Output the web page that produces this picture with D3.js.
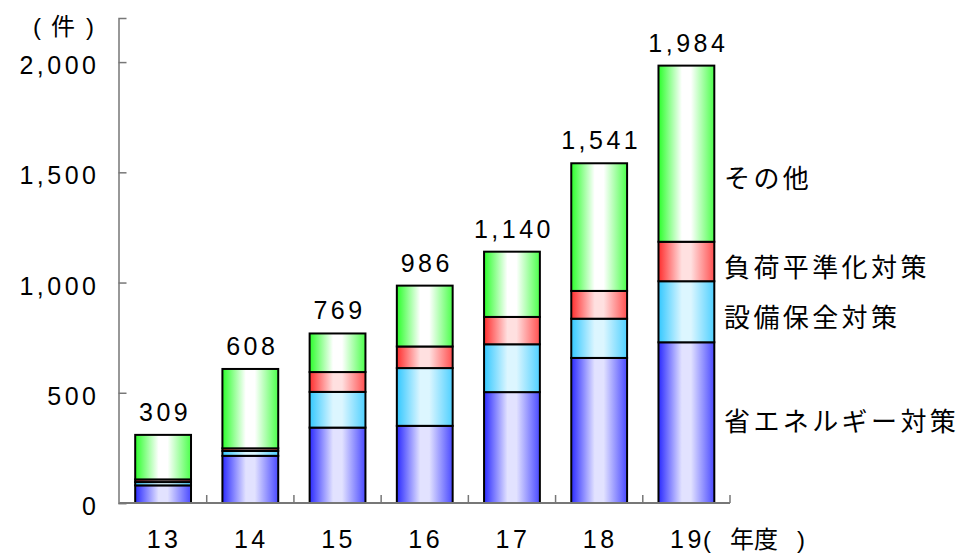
<!DOCTYPE html>
<html>
<head>
<meta charset="utf-8">
<script src="https://cdn.jsdelivr.net/npm/d3@7"></script>
<style>
body { margin:0; background:#fff; }
text { font-family:"Liberation Sans", Arial, "Noto Sans CJK JP", sans-serif; fill:#000; }
.num { font-size:25px; letter-spacing:3.5px; }
.legend { font-size:26px; letter-spacing:3.4px; font-family:"Noto Sans CJK JP", sans-serif; }
.unit { font-size:24px; font-family:"Liberation Sans", Arial, sans-serif; }
.unit.cjk { font-family:"Noto Sans CJK JP", sans-serif; }
</style>
</head>
<body>
<svg id="chart"></svg>
<script>
// fiscal years (Heisei)
var years = ["13","14","15","16","17","18","19"];
// 省エネルギー対策
var shoene = [80, 214, 342, 350, 503, 658, 729];
// 設備保全対策
var setsubi = [15, 22, 162, 262, 217, 178, 277];
// 負荷平準化対策
var fuka = [12, 12, 90, 98, 124, 126, 179];
// その他
var sonota = [202, 360, 175, 276, 296, 579, 799];
var totals = [309, 608, 769, 986, 1140, 1541, 1984];
var yTicks = [0, 500, 1000, 1500, 2000];

var keys = ["shoene","setsubi","fuka","sonota"];
var legendNames = {shoene:"省エネルギー対策", setsubi:"設備保全対策", fuka:"負荷平準化対策", sonota:"その他"};
var legendY = {shoene:419, setsubi:315, fuka:265, sonota:176};
var colors = {
    shoene: ["#2b2bff","#e2e2ff","#4a4aff"],
    setsubi:["#33c8ff","#dcf6ff","#4fd0ff"],
    fuka:   ["#ff2e2e","#ffe0e0","#ff5050"],
    sonota: ["#2bff2b","#ffffff","#4cff4c"]
};

var screen = {width:963, height:554};
var svg = d3.select("#chart")
    .attr("width", screen.width)
    .attr("height", screen.height);

var rows = years.map(function(y, i){
    return {year:y, shoene:shoene[i], setsubi:setsubi[i], fuka:fuka[i], sonota:sonota[i], total:totals[i]};
});

var xScale = d3.scaleBand()
    .domain(years)
    .range([119.5, 730])
    .paddingInner(0.36)
    .paddingOuter(0.18);
var yScale = d3.scaleLinear()
    .domain([0, 2200])
    .range([503, 18]);

//gradients
var defs = svg.append("defs");
keys.forEach(function(k){
    var g = defs.append("linearGradient")
        .attr("id", "grad-" + k)
        .attr("x1", "0%").attr("x2", "100%")
        .attr("y1", "0%").attr("y2", "0%");
    g.append("stop").attr("offset", "0%").attr("stop-color", colors[k][0]);
    g.append("stop").attr("offset", "42%").attr("stop-color", colors[k][1]);
    g.append("stop").attr("offset", "58%").attr("stop-color", colors[k][1]);
    g.append("stop").attr("offset", "100%").attr("stop-color", colors[k][2]);
});

var stacked = d3.stack().keys(keys)(rows);

//bars
var layers = svg.append("g")
    .selectAll("g")
    .data(stacked)
    .enter()
    .append("g")
    .attr("fill", function(d){ return "url(#grad-" + d.key + ")"; });

layers.selectAll("rect")
    .data(function(d){ return d; })
    .enter()
    .append("rect")
    .attr("x", function(d){ return xScale(d.data.year); })
    .attr("width", xScale.bandwidth())
    .attr("y", function(d){ return yScale(d[1]); })
    .attr("height", function(d){ return yScale(d[0]) - yScale(d[1]); })
    .attr("stroke", "#000")
    .attr("stroke-width", 2);

//axes
var yAxis = d3.axisLeft(yScale)
    .tickValues(yTicks)
    .tickSize(-8)
    .tickPadding(19)
    .tickFormat(d3.format(","));

var ya = svg.append("g")
    .attr("transform", "translate(118.5,0)")
    .call(yAxis);
ya.select(".domain").attr("stroke", "#777").attr("stroke-width", 1.5);
ya.selectAll(".tick line").attr("stroke", "#777").attr("stroke-width", 1.5);
ya.selectAll(".tick text")
    .classed("num", true)
    .attr("font-size", null)
    .attr("font-family", null)
    .attr("dy", "0.46em");

var axisLine = svg.append("g");
axisLine.append("line")
    .attr("x1", xScale.range()[0]).attr("x2", xScale.range()[1])
    .attr("y1", yScale(0)).attr("y2", yScale(0))
    .attr("stroke", "#777").attr("stroke-width", 2);
var step = xScale.step();
axisLine.selectAll("line.xt")
    .data(d3.range(1, years.length + 1))
    .enter()
    .append("line")
    .attr("class", "xt")
    .attr("x1", function(i){ return xScale.range()[0] + i * step; })
    .attr("x2", function(i){ return xScale.range()[0] + i * step; })
    .attr("y1", yScale(0))
    .attr("y2", yScale(0) - 8)
    .attr("stroke", "#777").attr("stroke-width", 1.5);

//x labels
svg.append("g")
    .selectAll("text")
    .data(years)
    .enter()
    .append("text")
    .classed("num", true)
    .attr("text-anchor", "middle")
    .attr("x", function(d){ return xScale(d) + xScale.bandwidth()/2 + 1; })
    .attr("y", 548)
    .text(function(d){ return d; });

//unit labels: ( 年度 ) and ( 件 )
var unitX = [{t:"(", x:703}, {t:"年度", x:730, cjk:true}, {t:")", x:797}];
var unitY = [{t:"(", x:33}, {t:"件", x:51, cjk:true}, {t:")", x:86}];
svg.append("g")
    .selectAll("text")
    .data(unitX)
    .enter()
    .append("text")
    .attr("class", function(d){ return d.cjk ? "unit cjk" : "unit"; })
    .attr("x", function(d){ return d.x; })
    .attr("y", 548)
    .text(function(d){ return d.t; });
svg.append("g")
    .selectAll("text")
    .data(unitY)
    .enter()
    .append("text")
    .attr("class", function(d){ return d.cjk ? "unit cjk" : "unit"; })
    .attr("x", function(d){ return d.x; })
    .attr("y", 35)
    .text(function(d){ return d.t; });

//totals
svg.append("g")
    .selectAll("text")
    .data(rows)
    .enter()
    .append("text")
    .classed("num", true)
    .attr("text-anchor", "middle")
    .attr("x", function(d){ return xScale(d.year) + xScale.bandwidth()/2 + 2; })
    .attr("y", function(d){ return yScale(d.total) - 14; })
    .text(function(d){ return d3.format(",")(d.total); });

//legend labels
svg.append("g")
    .selectAll("text")
    .data(keys)
    .enter()
    .append("text")
    .classed("legend", true)
    .attr("x", 724)
    .attr("y", function(k){ return legendY[k]; })
    .attr("dominant-baseline", "central")
    .text(function(k){ return legendNames[k]; });
</script>
</body>
</html>
